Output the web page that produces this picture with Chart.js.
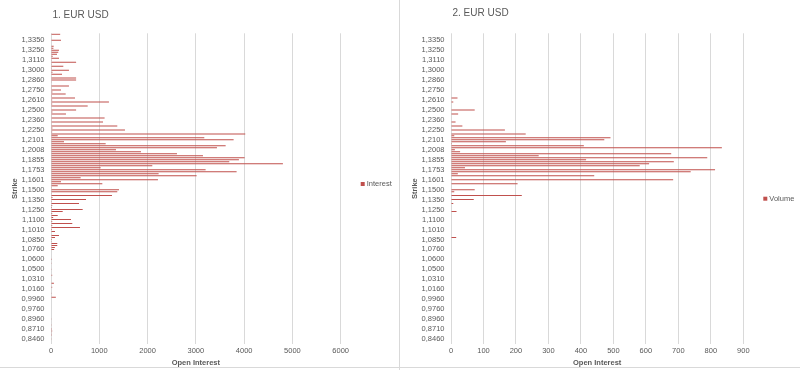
<!DOCTYPE html>
<html>
<head>
<meta charset="utf-8">
<script src="https://cdn.jsdelivr.net/npm/chart.js@4/dist/chart.umd.min.js"></script>
<style>
  body { margin: 0; background: #fff; }
  .panel { position: absolute; top: 0; width: 400px; height: 370px; }
  #p1 { left: 0; }
  #p2 { left: 400px; }
  .sep { position: absolute; left: 399px; top: 0; width: 1px; height: 370px; background: #d9d9d9; }
  .bottom { position: absolute; left: 0; top: 367px; width: 800px; height: 1px; background: #d9d9d9; }
</style>
</head>
<body>
<div class="panel" id="p1"><canvas id="chart1" width="400" height="370"></canvas></div>
<div class="panel" id="p2"><canvas id="chart2" width="400" height="370"></canvas></div>
<div class="sep"></div>
<div class="bottom"></div>
<script>
// Strike labels shown on the axis (every 5th strike), top to bottom
const strikeTicks = ['1,3350', '1,3250', '1,3110', '1,3000', '1,2860', '1,2750', '1,2610', '1,2500',
  '1,2360', '1,2250', '1,2101', '1,2008', '1,1855', '1,1753', '1,1601', '1,1500', '1,1350', '1,1250',
  '1,1100', '1,1010', '1,0850', '1,0760', '1,0600', '1,0500', '1,0310', '1,0160', '0,9960', '0,9760',
  '0,8960', '0,8710', '0,8460'];

// Open interest per strike, top to bottom (156 strikes)
const interest = [
  190, 0, 10, 207, 0, 0, 55, 50, 165, 150,
  125, 35, 165, 15, 520, 15, 255, 15, 372, 30,
  228, 10, 520, 520, 15, 0, 372, 15, 207, 30,
  304, 20, 497, 25, 1200, 25, 760, 0, 520, 30,
  310, 15, 1110, 15, 1077, 15, 1373, 30, 1532, 25,
  4023, 139, 3175, 3782, 269, 1132, 3617, 3437, 1346, 1863,
  2609, 3147, 4010, 3892, 3692, 4803, 2098, 1028, 3202, 3844,
  2229, 3016, 614, 2215, 207, 1063, 139, 15, 1408, 1373,
  15, 1263, 30, 725, 15, 580, 25, 20, 656, 242,
  25, 139, 45, 414, 25, 441, 25, 600, 20, 83,
  0, 165, 83, 20, 15, 130, 130, 80, 65, 0,
  0, 0, 0, 20, 0, 15, 0, 0, 15, 0,
  0, 25, 0, 0, 0, 60, 0, 25, 0, 0,
  15, 0, 100, 0, 0, 0, 0, 0, 0, 0,
  0, 0, 0, 15, 0, 0, 15, 10, 20, 25,
  15, 20, 10, 15, 0, 0
];

// Volume per strike, same order
const volume = [
  0, 0, 0, 0, 0, 0, 0, 0, 0, 0,
  0, 0, 0, 0, 0, 0, 0, 0, 0, 0,
  0, 0, 0, 0, 0, 0, 0, 0, 0, 0,
  0, 0, 20, 0, 7, 0, 0, 0, 73, 0,
  22, 0, 0, 0, 14, 0, 35, 0, 166, 0,
  230, 10, 491, 472, 169, 3, 409, 834, 12, 28,
  678, 270, 789, 416, 686, 610, 581, 43, 813, 738,
  21, 441, 0, 684, 0, 205, 0, 0, 73, 10,
  0, 218, 0, 70, 0, 7, 0, 0, 0, 17,
  0, 0, 0, 0, 0, 0, 0, 0, 0, 0,
  0, 0, 16, 0, 0, 0, 0, 0, 0, 0,
  0, 0, 0, 0, 0, 0, 0, 0, 0, 0,
  0, 0, 0, 0, 0, 0, 0, 0, 0, 0,
  0, 0, 0, 0, 0, 0, 0, 0, 0, 0,
  0, 0, 0, 0, 0, 0, 0, 0, 0, 0,
  0, 0, 0, 0, 0, 0
];

// axis shows a label on every 5th strike, starting with the 4th from the top
const categories = interest.map((v, i) => (i >= 3 && (i - 3) % 5 === 0) ? strikeTicks[(i - 3) / 5] : '');

const textColor = '#595959';
const barColor = '#C0504D';
const fontFamily = '"Liberation Sans", Arial, sans-serif';

// chart title at the plot's left edge and a small legend right of the plot
const panelDecor = {
  id: 'panelDecor',
  afterDraw(chart, args, opts) {
    const ctx = chart.ctx;
    const area = chart.chartArea;
    ctx.save();
    ctx.fillStyle = textColor;
    ctx.textBaseline = 'middle';
    ctx.font = '10px ' + fontFamily;
    ctx.fillText(opts.title, area.left + 1.5, opts.titleY);
    ctx.fillStyle = barColor;
    ctx.fillRect(area.right + opts.legendDx, opts.legendY - 2, 4, 4);
    ctx.fillStyle = textColor;
    ctx.font = '7.5px ' + fontFamily;
    ctx.fillText(chart.data.datasets[0].label, area.right + opts.legendDx + 6, opts.legendY);
    ctx.restore();
  }
};

function makeChart(ctx, cfg) {
  return new Chart(ctx, {
    type: 'bar',
    data: {
      labels: categories,
      datasets: [{
        label: cfg.name,
        data: cfg.values,
        backgroundColor: barColor,
        borderWidth: 0,
        barPercentage: 1,
        categoryPercentage: 0.5
      }]
    },
    options: {
      indexAxis: 'y',
      responsive: false,
      animation: false,
      layout: { padding: { top: 33.3, right: cfg.padRight, bottom: 0, left: 0 } },
      plugins: {
        legend: { display: false },
        tooltip: { enabled: false },
        panelDecor: { title: cfg.title, titleY: cfg.titleY, legendDx: cfg.legendDx, legendY: cfg.legendY }
      },
      scales: {
        x: {
          min: 0,
          max: cfg.max,
          afterFit: (s) => { s.height = 26; },
          ticks: {
            stepSize: cfg.step, color: textColor, font: { family: fontFamily, size: 7.5 }, padding: 2,
            callback: (v) => String(v)
          },
          grid: { color: '#d9d9d9', drawTicks: false },
          border: { display: false },
          title: {
            display: true, text: 'Open Interest', color: textColor,
            font: { family: fontFamily, size: 7.5, weight: 'bold' }, padding: { top: 0, bottom: 2.5 }
          }
        },
        y: {
          afterFit: (s) => { s.width = 51; },
          ticks: { autoSkip: false, color: textColor, font: { family: fontFamily, size: 7.5 }, padding: 6.5 },
          grid: { display: false, drawTicks: false },
          border: { display: false },
          title: {
            display: true, text: 'Strike', color: textColor,
            font: { family: fontFamily, size: 7.5, weight: 'bold' }, padding: { top: 10.5, bottom: 0 }
          }
        }
      }
    },
    plugins: [panelDecor]
  });
}

makeChart(document.getElementById('chart1').getContext('2d'), {
  name: 'Interest', values: interest, title: '1. EUR USD', titleY: 15.7,
  max: 6000, step: 1000, padRight: 59.3, legendDx: 20, legendY: 184
});
makeChart(document.getElementById('chart2').getContext('2d'), {
  name: 'Volume', values: volume, title: '2. EUR USD', titleY: 13.3,
  max: 900, step: 100, padRight: 56.7, legendDx: 20, legendY: 198.7
});
</script>
</body>
</html>
